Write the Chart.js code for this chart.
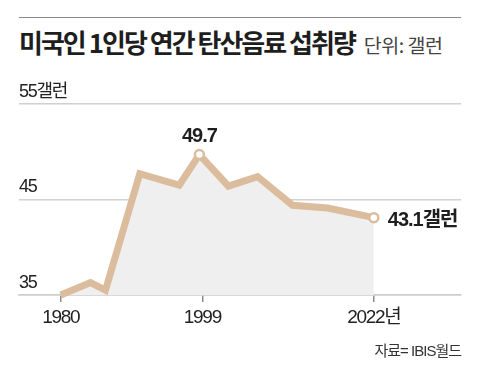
<!DOCTYPE html>
<html>
<head>
<meta charset="utf-8">
<script src="https://cdn.jsdelivr.net/npm/chart.js@4"></script>
<style>
  body { margin: 0; background: #fff; }
  #wrap { position: relative; width: 480px; height: 374px; overflow: hidden; }
  #rule { position: absolute; left: 19px; top: 17px; width: 442px; height: 0; border-top: 1.5px solid #8a8a8a; }
  #title { position: absolute; left: 19px; top: 27px; white-space: nowrap; line-height: 30px;
    font-family: "Noto Sans CJK KR", sans-serif; color: #1e1e1e; }
  #title b { font-size: 26px; font-weight: 700; letter-spacing: -2px; }
  #title span { font-size: 19.5px; color: #444; letter-spacing: -0.5px; margin-left: 9px; }
  #source { position: absolute; right: 19px; top: 339px; white-space: nowrap;
    font-family: "Liberation Sans", "Noto Sans CJK KR", sans-serif;
    font-size: 15px; color: #333; letter-spacing: -1px; }
  canvas { position: absolute; left: 0; top: 0; }
</style>
</head>
<body>
<div id="wrap">
  <div id="rule"></div>
  <div id="title"><b>미국인 1인당 연간 탄산음료 섭취량</b><span>단위: 갤런</span></div>
  <canvas id="sodaChart" width="480" height="374"></canvas>
  <div id="source">자료= IBIS월드</div>
</div>
<script>
// data (years are approximate positions)
const years = [1980, 1984, 1986, 1990.6, 1995.9, 1998.6, 2002.5, 2006.4, 2011.1, 2015.8, 2022];
const gallons = [35.0, 36.3, 35.5, 47.7, 46.5, 49.7, 46.4, 47.4, 44.4, 44.1, 43.1];
const xTicks = [1980, 1999, 2022];
const yTicks = [35, 45, 55];
const lineColor = '#dbbd9d';
const fontStack = '"Liberation Sans", "Noto Sans CJK KR", sans-serif';

// tighter text, the original uses a condensed face
const tightText = {
  id: 'tightText',
  beforeDraw(chart) { chart.ctx.letterSpacing = '-1.3px'; }
};

// labels on the highlighted points
const pointLabels = {
  id: 'pointLabels',
  afterDatasetsDraw(chart) {
    const ctx = chart.ctx;
    const pts = chart.getDatasetMeta(0).data;
    const peak = gallons.indexOf(Math.max(...gallons));
    const last = gallons.length - 1;
    ctx.save();
    ctx.letterSpacing = '-1px';
    ctx.fillStyle = '#1e1e1e';
    ctx.font = 'bold 20px ' + fontStack;
    ctx.textAlign = 'center';
    ctx.textBaseline = 'alphabetic';
    ctx.fillText(gallons[peak].toFixed(1), pts[peak].x, pts[peak].y - 13);
    ctx.textAlign = 'left';
    ctx.fillText(gallons[last].toFixed(1) + '갤런', pts[last].x + 14, pts[last].y + 8);
    ctx.restore();
  }
};

const ctx = document.getElementById('sodaChart').getContext('2d');
const sodaChart = new Chart(ctx, {
  type: 'line',
  data: {
    datasets: [{
      data: years.map((y, i) => ({ x: y, y: gallons[i] })),
      borderColor: lineColor,
      borderWidth: 7,
      backgroundColor: '#efefef',
      fill: 'start',
      tension: 0,
      clip: 10,
      pointRadius: gallons.map((v, i) => (i === 5 || i === gallons.length - 1) ? 4.5 : 0),
      pointBackgroundColor: '#fff',
      pointBorderColor: lineColor,
      pointBorderWidth: 2.5
    }]
  },
  options: {
    responsive: false,
    animation: false,
    layout: { padding: { left: 19, right: 19, top: 104, bottom: 0 } },
    plugins: { legend: { display: false }, tooltip: { enabled: false } },
    scales: {
      x: {
        type: 'linear',
        min: 1974.4,
        max: 2033.7,
        afterBuildTicks: axis => { axis.ticks = xTicks.map(v => ({ value: v })); },
        ticks: {
          callback: v => v === 2022 ? v + '년' : String(v),
          font: { family: fontStack, size: 19 },
          color: '#222',
          padding: 4,
          maxRotation: 0,
          autoSkip: false
        },
        grid: { drawOnChartArea: false, drawTicks: true, tickLength: 7, color: '#8a8a8a', lineWidth: 1.5 },
        border: { display: true, color: '#cccccc', width: 1.5 },
        afterFit: axis => { axis.height = 79; }
      },
      y: {
        min: 35,
        max: 55,
        afterBuildTicks: axis => { axis.ticks = yTicks.map(v => ({ value: v })); },
        ticks: {
          mirror: true,
          padding: 0,
          labelOffset: -12,
          callback: v => v === 55 ? v + '갤런' : String(v),
          font: { family: fontStack, size: 18 },
          color: '#222'
        },
        grid: { drawTicks: false, color: '#d0d0d0', lineWidth: 1.5 },
        border: { display: false }
      }
    }
  },
  plugins: [tightText, pointLabels]
});
</script>
</body>
</html>
